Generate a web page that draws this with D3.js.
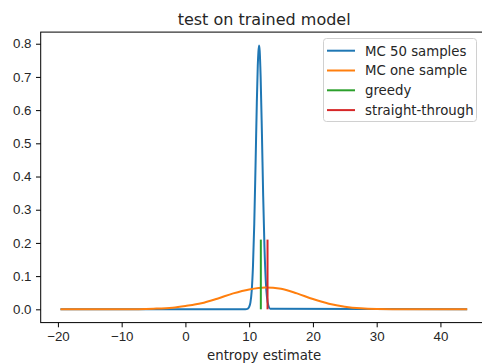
<!DOCTYPE html>
<html>
<head>
<meta charset="utf-8">
<script src="https://cdn.jsdelivr.net/npm/d3@7"></script>
<style>
  body { margin: 0; background: #fff; }
  svg { display: block; font-family: "DejaVu Sans", sans-serif; }
</style>
</head>
<body>
<div id="chart"></div>
<script>
// Values
const blueX = [-19.6, 9.4, 9.8, 10.0, 10.2, 10.4, 10.6, 10.8, 11.0, 11.2, 11.35, 11.45, 11.55, 11.65, 11.8, 12.0, 12.2, 12.4, 12.6, 12.8, 13.0, 13.3, 44.2];
const blueY = [0, 0, 0.002, 0.007, 0.021, 0.056, 0.131, 0.258, 0.434, 0.622, 0.734, 0.775, 0.795, 0.779, 0.70, 0.53, 0.34, 0.187, 0.088, 0.035, 0.012, 0.002, 0];

const orangeX = [-19.6, -10, -5, -2, 0, 2.5, 5, 7.5, 10, 12.5, 15, 17.5, 20, 22.5, 25, 27.5, 30, 35, 44.2];
const orangeY = [0, 0.0003, 0.002, 0.005, 0.010, 0.018, 0.032, 0.048, 0.060, 0.066, 0.062, 0.048, 0.031, 0.017, 0.008, 0.003, 0.001, 0, 0];

const greedyX = 11.83;
const straightX = 12.88;
const barTop = 0.21;

const xTicks = [-20, -10, 0, 10, 20, 30, 40];
const yTicks = [0, 0.1, 0.2, 0.3, 0.4, 0.5, 0.6, 0.7, 0.8];

const seriesNames = ["MC 50 samples", "MC one sample", "greedy", "straight-through"];
const colors = ["#1f77b4", "#ff7f0e", "#2ca02c", "#d62728"];

const width = 482, height = 364;
const plotLeft = 40.7, plotRight = 487.6, plotTop = 32.1, plotBottom = 322.6;

const svg = d3.select("#chart").append("svg")
  .attr("width", width)
  .attr("height", height);

const x = d3.scaleLinear().domain([-22.7, 47.4]).range([plotLeft, plotRight]);
const y = d3.scaleLinear().domain([-0.04, 0.835]).range([plotBottom, plotTop]);

const line = d3.line()
  .x(d => x(d[0]))
  .y(d => y(d[1]))
  .curve(d3.curveMonotoneX);

const series = [
  d3.zip(blueX, blueY),
  d3.zip(orangeX, orangeY),
  [[greedyX, 0], [greedyX, barTop]],
  [[straightX, 0], [straightX, barTop]]
];

series.forEach((pts, i) => {
  svg.append("path")
    .datum(pts)
    .attr("d", line)
    .attr("fill", "none")
    .attr("stroke", colors[i])
    .attr("stroke-width", 2)
    .attr("stroke-linejoin", "round");
});

// axes
const xAxis = svg.append("g")
  .attr("transform", `translate(0,${plotBottom})`)
  .call(d3.axisBottom(x).tickValues(xTicks).tickSize(4.7).tickPadding(4.5).tickFormat(d3.format("d")));
const yAxis = svg.append("g")
  .attr("transform", `translate(${plotLeft},0)`)
  .call(d3.axisLeft(y).tickValues(yTicks).tickSize(4.7).tickPadding(4.5).tickFormat(d3.format(".1f")));

[xAxis, yAxis].forEach(g => {
  g.select(".domain").remove();
  g.selectAll(".tick line").attr("stroke", "#000").attr("stroke-width", 1);
  g.selectAll(".tick text").attr("fill", "#262626").style("font-size", "13.3px");
});

// spines
svg.append("rect")
  .attr("x", plotLeft).attr("y", plotTop)
  .attr("width", plotRight - plotLeft).attr("height", plotBottom - plotTop)
  .attr("fill", "none").attr("stroke", "#000").attr("stroke-width", 1);

// title and label
svg.append("text")
  .attr("x", (plotLeft + plotRight) / 2).attr("y", 25)
  .attr("text-anchor", "middle")
  .attr("fill", "#262626")
  .style("font-size", "16px")
  .text("test on trained model");

svg.append("text")
  .attr("x", (plotLeft + plotRight) / 2).attr("y", 360)
  .attr("text-anchor", "middle")
  .attr("fill", "#262626")
  .style("font-size", "13.3px")
  .text("entropy estimate");

// legend
const legend = svg.append("g");
legend.append("rect")
  .attr("x", 323.5).attr("y", 38.5)
  .attr("width", 153).attr("height", 83)
  .attr("rx", 3)
  .attr("fill", "#fff").attr("fill-opacity", 0.8)
  .attr("stroke", "#d0d0d0");

seriesNames.forEach((name, i) => {
  const ly = 50.7 + i * 19.8;
  legend.append("line")
    .attr("x1", 327).attr("x2", 355)
    .attr("y1", ly).attr("y2", ly)
    .attr("stroke", colors[i]).attr("stroke-width", 2);
  legend.append("text")
    .attr("x", 365).attr("y", ly + 4.8)
    .attr("fill", "#262626")
    .style("font-size", "13.3px")
    .text(name);
});
</script>
</body>
</html>
